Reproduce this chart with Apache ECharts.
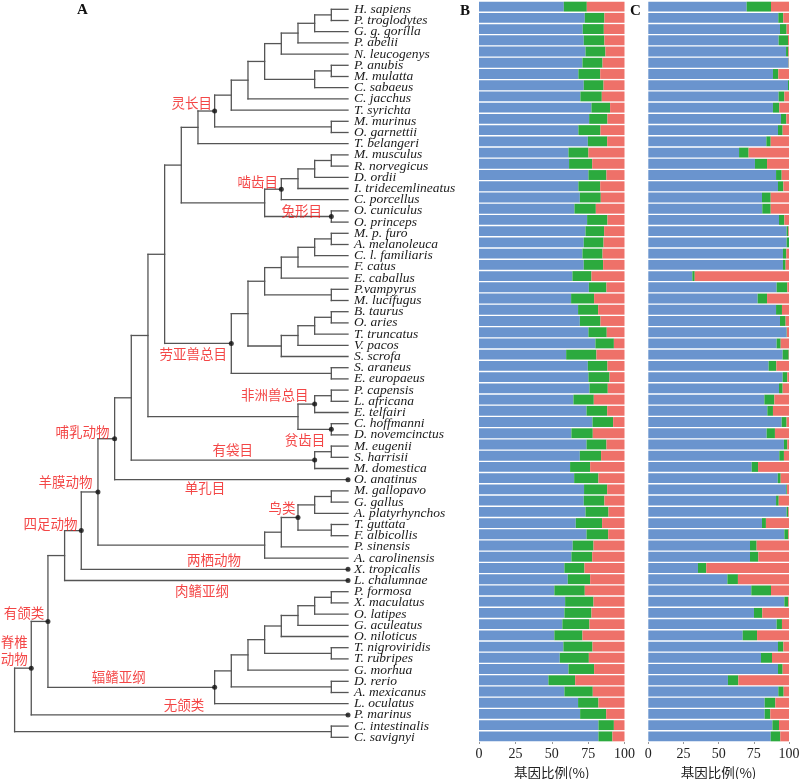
<!DOCTYPE html>
<html><head><meta charset="utf-8">
<script src="https://cdn.jsdelivr.net/npm/echarts@6/dist/echarts.min.js"></script>
<style>html,body{margin:0;padding:0;background:#fff}#c{width:800px;height:779px}</style>
</head><body><div id="c"></div>
<script>
// ---------------- DATA ----------------
const species = ['H. sapiens','P. troglodytes','G. g. gorilla','P. abelii','N. leucogenys','P. anubis','M. mulatta','C. sabaeus','C. jacchus','T. syrichta','M. murinus','O. garnettii','T. belangeri','M. musculus','R. norvegicus','D. ordii','I. tridecemlineatus','C. porcellus','O. cuniculus','O. princeps','M. p. furo','A. melanoleuca','C. l. familiaris','F. catus','E. caballus','P.vampyrus','M. lucifugus','B. taurus','O. aries','T. truncatus','V. pacos','S. scrofa','S. araneus','E. europaeus','P. capensis','L. africana','E. telfairi','C. hoffmanni','D. novemcinctus','M. eugenii','S. harrisii','M. domestica','O. anatinus','M. gallopavo','G. gallus','A. platyrhynchos','T. guttata','F. albicollis','P. sinensis','A. carolinensis','X. tropicalis','L. chalumnae','P. formosa','X. maculatus','O. latipes','G. aculeatus','O. niloticus','T. nigroviridis','T. rubripes','G. morhua','D. rerio','A. mexicanus','L. oculatus','P. marinus','C. intestinalis','C. savignyi'];

// Tree topology: [level, child, child]; leaves are species names
const tree = [20,
  [19,
    [18,
      [17,
        [16,
          [15,
            [14,
              [13,
                [12,
                  [11,
                    [10,
                      [9, [8, [7, [6, [5, [4,[3,[2,[1,'H. sapiens','P. troglodytes'],'G. g. gorilla'],'P. abelii'],'N. leucogenys'], [2,[1,'P. anubis','M. mulatta'],'C. sabaeus']], 'C. jacchus'], 'T. syrichta'], [1,'M. murinus','O. garnettii']], 'T. belangeri'],
                      [5, [4,[3,[2,[1,'M. musculus','R. norvegicus'],'D. ordii'],'I. tridecemlineatus'],'C. porcellus'], [1,'O. cuniculus','O. princeps']]
                    ],
                    [7, [6, [5, [4,[3,[2,[1,'M. p. furo','A. melanoleuca'],'C. l. familiaris'],'F. catus'],'E. caballus'], [1,'P.vampyrus','M. lucifugus']], [4,[3,[2,[1,'B. taurus','O. aries'],'T. truncatus'],'V. pacos'],'S. scrofa']], [1,'S. araneus','E. europaeus']]
                  ],
                  [3, [2,[1,'P. capensis','L. africana'],'E. telfairi'], [1,'C. hoffmanni','D. novemcinctus']]
                ],
                [2,[1,'M. eugenii','S. harrisii'],'M. domestica']
              ],
              'O. anatinus'
            ],
            [5,[4,[3,[2,[1,'M. gallopavo','G. gallus'],'A. platyrhynchos'],[1,'T. guttata','F. albicollis']],'P. sinensis'],'A. carolinensis']
          ],
          'X. tropicalis'
        ],
        'L. chalumnae'
      ],
      [8,[7,[6,[5,[4,[3,[2,[1,'P. formosa','X. maculatus'],'O. latipes'],'G. aculeatus'],'O. niloticus'],[1,'T. nigroviridis','T. rubripes']],'G. morhua'],[1,'D. rerio','A. mexicanus']],'L. oculatus']
    ],
    'P. marinus'
  ],
  [1,'C. intestinalis','C. savignyi']
];

// Clade labels: [text, first leaf, last leaf] (node = most recent common ancestor)
const clades = [
  ['灵长目','H. sapiens','O. garnettii'],
  ['啮齿目','M. musculus','C. porcellus'],
  ['兔形目','O. cuniculus','O. princeps'],
  ['劳亚兽总目','M. p. furo','E. europaeus'],
  ['非洲兽总目','P. capensis','E. telfairi'],
  ['贫齿目','C. hoffmanni','D. novemcinctus'],
  ['有袋目','M. eugenii','M. domestica'],
  ['哺乳动物','H. sapiens','O. anatinus'],
  ['单孔目','O. anatinus','O. anatinus'],
  ['羊膜动物','H. sapiens','A. carolinensis'],
  ['鸟类','M. gallopavo','F. albicollis'],
  ['四足动物','H. sapiens','X. tropicalis'],
  ['两栖动物','X. tropicalis','X. tropicalis'],
  ['肉鳍亚纲','L. chalumnae','L. chalumnae'],
  ['有颌类','H. sapiens','L. oculatus'],
  ['辐鳍亚纲','P. formosa','L. oculatus'],
  ['脊椎\n动物','H. sapiens','P. marinus'],
  ['无颌类','P. marinus','P. marinus']
];

// Panel B (%)
const blueB  = [58.3,72.7,71.3,72.0,73.2,71.1,68.3,72.0,69.7,77.3,75.7,68.3,74.8,61.5,61.9,75.2,68.3,69.3,65.6,74.3,73.2,72.0,71.1,72.0,64.2,75.5,63.3,68.1,69.3,75.2,80.0,59.9,74.8,75.2,75.9,64.9,73.9,78.0,63.5,73.9,69.3,62.6,65.4,72.2,72.0,73.2,66.5,73.9,64.4,63.5,58.7,61.0,51.8,59.2,58.7,57.3,51.8,58.0,55.5,61.5,47.7,58.7,68.1,69.5,82.1,82.1];
const greenB = [15.8,13.5,14.5,14.2,13.7,13.8,15.0,13.6,14.7,12.8,12.6,15.2,13.3,13.7,15.9,12.4,15.0,14.4,14.7,14.0,12.8,13.6,13.8,13.3,13.1,12.1,15.8,13.8,14.2,12.6,12.7,20.8,13.5,14.5,12.6,14.0,14.2,14.2,14.7,13.7,14.6,13.8,16.7,15.9,14.2,15.8,18.1,14.9,14.3,14.3,13.8,15.4,20.9,19.5,18.6,18.6,19.3,20.0,20.0,17.6,18.4,19.5,14.0,17.9,10.6,9.6];
const redB   = [25.9,13.8,14.2,13.8,13.1,15.1,16.7,14.4,15.6,9.9,11.7,16.5,11.9,24.8,22.2,12.4,16.7,16.3,19.7,11.7,14.0,14.4,15.1,14.7,22.7,12.4,20.9,18.1,16.5,12.2,7.3,19.3,11.7,10.3,11.5,21.1,11.9,7.8,21.8,12.4,16.1,23.6,17.9,11.9,13.8,11.0,15.4,11.2,21.3,22.2,27.5,23.6,27.3,21.3,22.7,24.1,28.9,22.0,24.5,20.9,33.9,21.8,17.9,12.6,7.3,8.3];
// Panel C (%)
const blueC  = [69.9,92.4,93.6,92.6,97.9,99.6,88.6,99.3,92.6,88.6,94.3,92.2,83.9,64.5,75.8,90.8,92.2,80.8,81.0,92.9,98.3,98.3,95.7,95.7,31.3,91.2,77.7,90.8,93.6,98.3,91.2,95.5,85.5,95.5,92.9,82.5,84.6,94.8,84.1,96.4,93.1,73.5,92.0,98.1,90.8,98.3,80.8,96.7,72.3,72.3,35.3,56.2,73.2,96.7,75.1,91.2,67.1,92.2,80.1,92.2,56.6,92.4,82.7,82.7,88.2,87.0];
const greenC = [17.3,3.5,4.7,6.7,1.6,0.2,3.8,0.7,4.1,4.5,3.8,3.3,3.1,6.8,8.6,4.0,3.8,6.2,6.0,3.8,1.2,1.7,2.4,1.9,1.7,7.6,6.7,4.2,4.0,0.2,2.9,4.3,5.5,3.3,2.6,7.1,4.0,3.5,5.9,2.4,3.3,4.5,2.1,0.5,1.9,1.2,2.8,2.8,4.7,5.9,5.9,7.5,14.0,2.8,5.9,3.8,10.2,3.8,7.8,3.3,7.4,3.8,7.6,4.0,4.7,6.8];
const redC   = [12.8,4.1,1.7,0.7,0.5,0.2,7.6,0.0,3.3,6.9,1.9,4.5,13.0,28.7,15.6,5.2,4.0,13.0,13.0,3.3,0.5,0.0,1.9,2.4,67.0,1.2,15.6,5.0,2.4,1.5,5.9,0.2,9.0,1.2,4.5,10.4,11.4,1.7,10.0,1.2,3.6,22.0,5.9,1.4,7.3,0.5,16.4,0.5,23.0,21.8,58.8,36.3,12.8,0.5,19.0,5.0,22.7,4.0,12.1,4.5,36.0,3.8,9.7,13.3,7.1,6.2];

const xTicks = [0,25,50,75,100];

// ---------------- STYLE ----------------
const COLORS = {blue:'#6A94CE', green:'#2CAA3E', red:'#EE7169', line:'#555555', clade:'#F01818'};
const labelOffset = {
  '灵长目':[-23,-8], '啮齿目':[-23.5,-7], '兔形目':[-29.7,-6], '劳亚兽总目':[-38,10],
  '非洲兽总目':[-40,-9], '贫齿目':[-26.4,10.7], '有袋目':[-82,-10], '哺乳动物':[-32,-7],
  '单孔目':[-143,8.5], '羊膜动物':[-32.4,-9.7], '鸟类':[-16,-10], '四足动物':[-30.7,-7],
  '两栖动物':[-134,-9], '肉鳍亚纲':[-146,10], '有颌类':[-24,-9], '辐鳍亚纲':[-96,-10],
  '脊椎\n动物':[-17,-18], '无颌类':[-164,-10]
};

// ---------------- TREE LAYOUT ----------------
const nodes = [];
const segs = [];
function lay(n){
  if (typeof n === 'string') return {x:0, y:species.indexOf(n), leaves:[n]};
  const A = lay(n[1]), B = lay(n[2]);
  const lv = n[0];
  segs.push([lv, A.y, lv, B.y]);
  segs.push([lv, A.y, A.x, A.y]);
  segs.push([lv, B.y, B.x, B.y]);
  const node = {x:lv, y:(A.y+B.y)/2, leaves:A.leaves.concat(B.leaves)};
  nodes.push(node);
  return node;
}
lay(tree);
function findNode(a,b){
  if (a===b) return {x:0, y:species.indexOf(a)};
  let best=null;
  nodes.forEach(n=>{ if(n.leaves.includes(a)&&n.leaves.includes(b)&&(!best||n.leaves.length<best.leaves.length)) best=n; });
  return best;
}
const dotData = clades.map(c=>{
  const n = findNode(c[1],c[2]);
  return {value:[n.x,n.y], name:c[0], label:{offset:labelOffset[c[0]]}};
});

// ---------------- CHART ----------------
const chart = echarts.init(document.getElementById('c'), null, {renderer:'canvas'});
const serif = 'Liberation Serif';
const cjk = 'Noto Sans CJK SC';
const barGrid = (idx) => ({
  type:'value', gridIndex:idx, min:0, max:100, interval:25,
  axisLine:{show:false}, splitLine:{show:false},
  axisTick:{show:true, length:2, lineStyle:{color:'#999'}},
  axisLabel:{color:'#222', fontFamily:serif, fontSize:14, margin:5, formatter:v=>xTicks.includes(v)?String(v):''},
  name:'基因比例(%)', nameLocation:'middle', nameGap:22,
  nameTextStyle:{color:'#222', fontFamily:cjk, fontSize:13.5}
});
const catAxis = (idx) => ({
  type:'category', gridIndex:idx, data:species, inverse:true,
  axisLine:{show:false}, axisTick:{show:false}, axisLabel:{show:false}
});
const barSeries = (name, data, color, xi, yi) => ({
  type:'bar', name, data, stack:'s'+xi, xAxisIndex:xi, yAxisIndex:yi,
  barCategoryGap:'12%', itemStyle:{color}, silent:true, animation:false
});

chart.setOption({
  animation:false,
  backgroundColor:'#fff',
  graphic:[
    {type:'text', left:77, top:3, style:{text:'A', font:'bold 15px "Liberation Serif"', fill:'#111'}},
    {type:'text', left:460, top:4, style:{text:'B', font:'bold 15px "Liberation Serif"', fill:'#111'}},
    {type:'text', left:630, top:4, style:{text:'C', font:'bold 15px "Liberation Serif"', fill:'#111'}}
  ],
  grid:[
    {left:14.6, width:333.4, top:3.7, height:739.2, outerBoundsMode:'none', containLabel:false},
    {left:479, width:145.5, top:1, height:741, outerBoundsMode:'none', containLabel:false},
    {left:648.3, width:140.7, top:1, height:741, outerBoundsMode:'none', containLabel:false}
  ],
  xAxis:[
    {type:'value', gridIndex:0, min:0, max:20, inverse:true, show:false},
    barGrid(1), barGrid(2)
  ],
  yAxis:[
    {type:'value', gridIndex:0, min:-0.5, max:65.5, inverse:true, show:false},
    {type:'category', gridIndex:0, data:species, inverse:true, position:'right',
     axisLine:{show:false}, axisTick:{show:false},
     axisLabel:{color:'#1a1a1a', fontFamily:serif, fontStyle:'italic', fontSize:13.5, margin:6, interval:0}},
    catAxis(1), catAxis(2)
  ],
  series:[
    {
      type:'custom', xAxisIndex:0, yAxisIndex:0, data:segs, encode:{x:[0,2], y:[1,3]}, silent:true, clip:false,
      renderItem:(params, api)=>{
        const p1 = api.coord([api.value(0), api.value(1)]);
        const p2 = api.coord([api.value(2), api.value(3)]);
        return {type:'line', shape:{x1:p1[0], y1:p1[1], x2:p2[0], y2:p2[1]},
                style:{stroke:COLORS.line, lineWidth:1.3, lineCap:'square'}};
      }
    },
    {
      type:'scatter', xAxisIndex:0, yAxisIndex:0, data:dotData, symbolSize:5, silent:true, clip:false,
      itemStyle:{color:'#111'}, z:5,
      label:{show:true, position:'inside', formatter:p=>p.name, color:COLORS.clade,
             fontFamily:cjk, fontSize:13.5, lineHeight:17, align:'center', verticalAlign:'middle'}
    },
    barSeries('B1', blueB, COLORS.blue, 1, 2),
    barSeries('B2', greenB, COLORS.green, 1, 2),
    barSeries('B3', redB, COLORS.red, 1, 2),
    barSeries('C1', blueC, COLORS.blue, 2, 3),
    barSeries('C2', greenC, COLORS.green, 2, 3),
    barSeries('C3', redC, COLORS.red, 2, 3)
  ]
});
</script></body></html>
